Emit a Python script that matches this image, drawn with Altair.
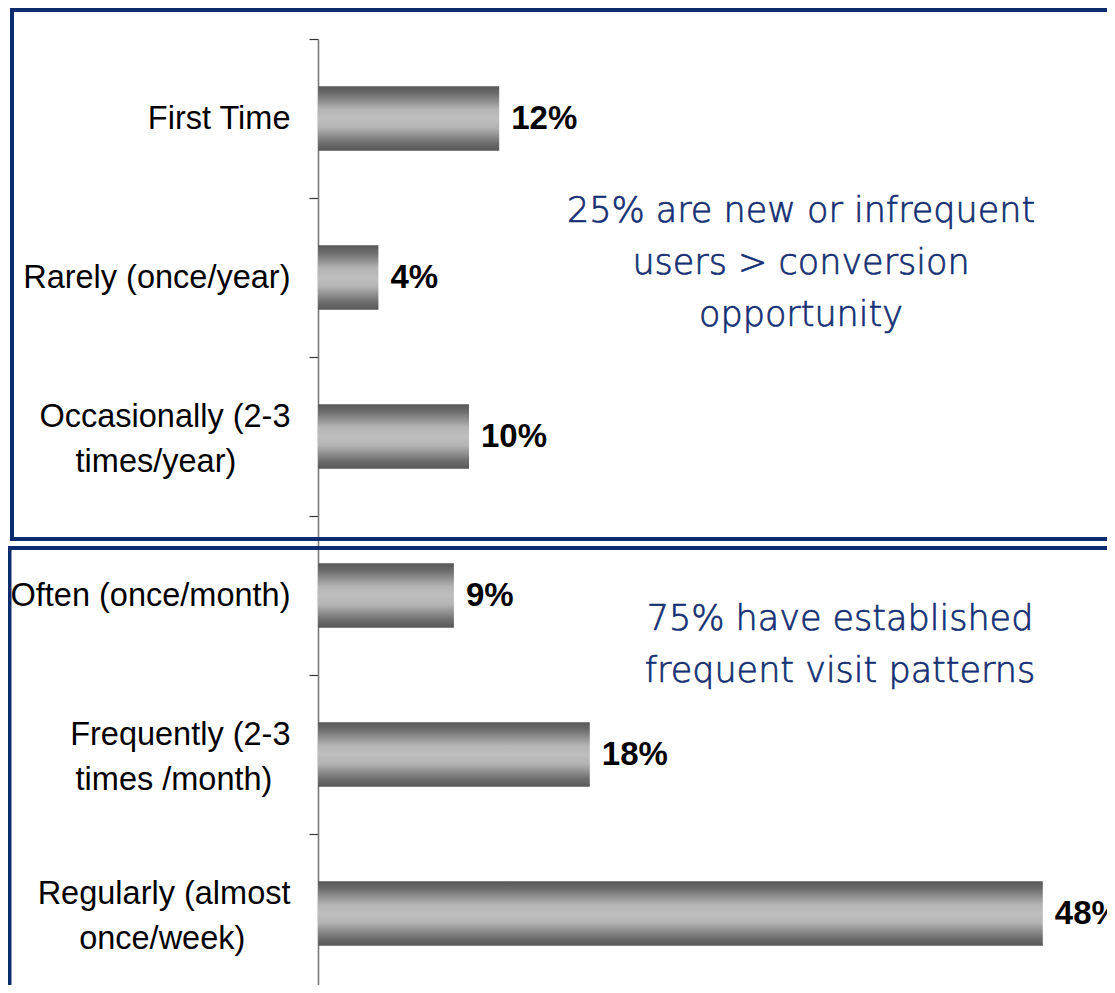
import altair as alt
import pandas as pd

# ---- data ----
categories = [
    "First Time",
    "Rarely (once/year)",
    "Occasionally (2-3\ntimes/year)",
    "Often (once/month)",
    "Frequently (2-3\ntimes /month)",
    "Regularly (almost\nonce/week)",
]
values = [12, 4, 10, 9, 18, 48]
value_labels = ["12%", "4%", "10%", "9%", "18%", "48%"]

note_top = ["25% are new or infrequent", "users > conversion", "opportunity"]
note_bottom = ["75% have established", "frequent visit patterns"]

# second-line centring (non-breaking spaces appended, visual only)
line2_pad = [0, 0, 6, 0, 2, 5]

NAVY = "#0B2C6E"
NOTE = "#142F72"
NBSP = "\u00a0"
WJ = "\u2060"

display = [c + NBSP * p + WJ if "\n" in c else c for c, p in zip(categories, line2_pad)]

df = pd.DataFrame({"cat": display, "value": values, "label": value_labels})

# whole chart must fit inside the page (8px body margin on every side)
PAD_L, PAD_T = 310, 31
TOTAL_W, TOTAL_H = 1099, 977
W, H = TOTAL_W - PAD_L, TOTAL_H - PAD_T
STEP = 159

xscale = alt.Scale(domain=[0, W / 15.1], nice=False, zero=True)
yscale = alt.Scale(domain=display, paddingInner=0, paddingOuter=0, range=[0, STEP * len(display)])

gradient = {
    "gradient": "linear",
    "x1": 0, "x2": 0, "y1": 0, "y2": 1,
    "stops": [
        {"offset": 0.0, "color": "#575757"},
        {"offset": 0.12, "color": "#6e6e6e"},
        {"offset": 0.36, "color": "#b4b4b4"},
        {"offset": 0.5, "color": "#bebebe"},
        {"offset": 0.64, "color": "#b4b4b4"},
        {"offset": 0.88, "color": "#6e6e6e"},
        {"offset": 1.0, "color": "#575757"},
    ],
}

base = alt.Chart(df)

bars = base.mark_bar(color=gradient, height={"band": 0.405}).encode(
    x=alt.X("value:Q", scale=xscale, axis=None),
    y=alt.Y(
        "cat:N",
        scale=yscale,
        sort=display,
        title=None,
        axis=alt.Axis(
            tickBand="extent",
            labelExpr="split(datum.label, '\\n')",
            labelFont="Liberation Sans",
            labelFontSize=32.5,
            labelLineHeight=45,
            labelColor="#000000",
            labelPadding=19,
            labelLimit=400,
            labelOffset={
                "condition": {"test": "indexof(datum.label, '\\n') >= 0", "value": -20},
                "value": 0,
            },
            tickSize=9,
            tickColor="#333333",
            tickWidth=1.2,
            domainColor="#7a7a7a",
            domainWidth=1.6,
        ),
    ),
)

texts = base.mark_text(
    align="left", baseline="middle", dx=12,
    font="Liberation Sans", fontSize=33, fontWeight="bold", color="#000000",
).encode(
    x=alt.X("value:Q", scale=xscale),
    y=alt.Y("cat:N", scale=yscale, sort=display),
    text="label:N",
)

one = pd.DataFrame({"k": [0]})

box_top = alt.Chart(one).mark_rect(filled=False, color=NAVY, strokeWidth=4).encode(
    x=alt.value(-306), x2=alt.value(900), y=alt.value(-29), y2=alt.value(500)
)
box_bottom = alt.Chart(one).mark_rect(filled=False, color=NAVY, strokeWidth=4).encode(
    x=alt.value(-308.5), x2=alt.value(900), y=alt.value(509), y2=alt.value(1100)
)

note_style = dict(
    align="center", baseline="middle", font="DejaVu Sans", fontWeight=200,
    fontSize=35, lineHeight=52, fill=NOTE, stroke=NOTE, strokeWidth=0.7,
)

ann1 = alt.Chart(one).mark_text(**note_style).encode(
    x=alt.value(483), y=alt.value(172), text=alt.value(note_top)
)
ann2 = alt.Chart(one).mark_text(**note_style).encode(
    x=alt.value(522), y=alt.value(580), text=alt.value(note_bottom)
)

chart = alt.layer(box_top, box_bottom, bars, texts, ann1, ann2).properties(
    width=W, height=H,
    autosize=alt.AutoSizeParams(type="none"),
    padding={"left": PAD_L, "top": PAD_T, "right": 0, "bottom": 0},
).configure_view(stroke=None)

chart.save("out.html", embed_options={"renderer": "svg", "actions": False})
